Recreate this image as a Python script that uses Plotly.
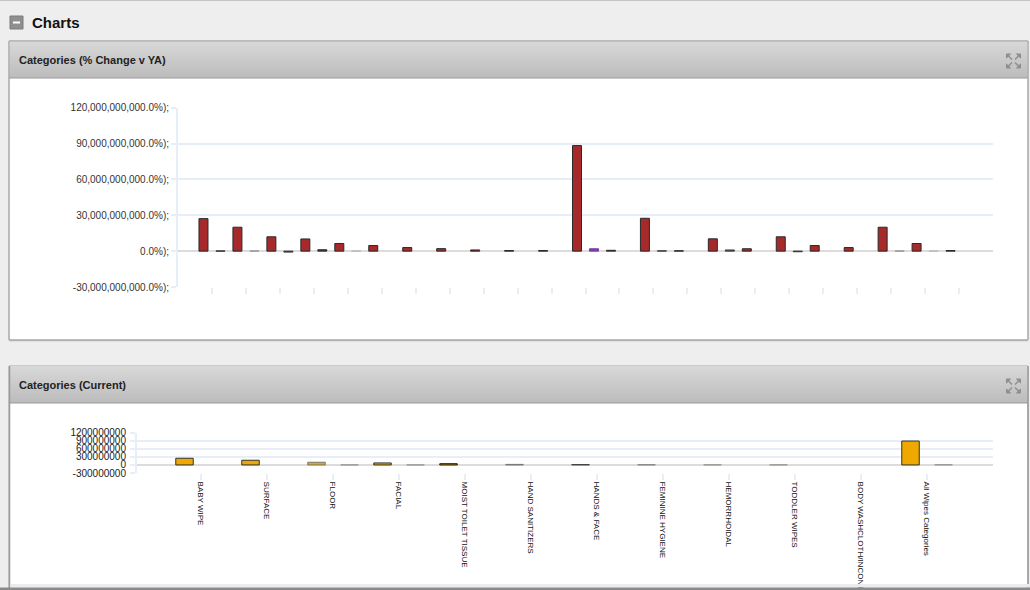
import plotly.graph_objects as go

W, H = 1030, 590

# ---------------- data ----------------
# Top chart: % change v YA (24 slots, two series; None = no bar drawn)
top_slots = [f"S{i+1}" for i in range(24)]
top_change = [27.2e9, 20.0e9, 12.0e9, 10.2e9, 6.4e9, 4.7e9, 3.0e9, 2.1e9, 1.0e9, 0.5e9,
              0.5e9, 88.3e9, 0.7e9, 27.5e9, 0.3e9, 10.3e9, 2.0e9, 12.0e9, 4.7e9, 3.0e9,
              20.0e9, 6.4e9, 0.5e9, None]
top_other = [None, 0.2e9, 0.2e9, -0.8e9, 1.2e9, 0.2e9, None, None, None, None,
             None, None, 2.0e9, None, 0.3e9, None, 1.0e9, None, -0.5e9, None,
             None, 0.2e9, 0.2e9, None]
top_other_colors = ["#333333", "#333333", "#999999", "#333333", "#333333", "#bbbbbb", "#333333", "#333333",
                    "#333333", "#333333", "#333333", "#333333", "#7a3fa8", "#444444", "#444444", "#333333",
                    "#444444", "#333333", "#333333", "#333333", "#333333", "#999999", "#bbbbbb", "#333333"]
top_tickvals = [-30e9, 0, 30e9, 60e9, 90e9, 120e9]
top_ticktext = ["-30,000,000,000.0%);", "0.0%);", "30,000,000,000.0%);", "60,000,000,000.0%);",
                "90,000,000,000.0%);", "120,000,000,000.0%);"]

# Bottom chart: current values (12 categories)
categories = ["BABY WIPE", "SURFACE", "FLOOR", "FACIAL", "MOIST TOILET TISSUE", "HAND SANITIZERS",
              "HANDS & FACE", "FEMININE HYGIENE", "HEMORRHOIDAL", "TODDLER WIPES",
              "BODY WASHCLOTH/INCONTINENCE", "All Wipes Categories"]
current_primary = [248e6, 175e6, 100e6, 75e6, 45e6, 20e6, 15e6, 10e6, 5e6, 5e6, None, 890e6]
current_secondary = [None, None, 3e6, 3e6, None, None, None, None, None, None, None, 10e6]
primary_line_colors = ["#333333", "#333333", "#777777", "#333333", "#111111", "#777777",
                       "#444444", "#888888", "#999999", "#999999", "#999999", "#333333"]
bot_tickvals = [-300e6, 0, 300e6, 600e6, 900e6, 1200e6]
bot_ticktext = ["-300000000", "0", "300000000", "600000000", "900000000", "1200000000"]

RED = "#a62a2a"
YELLOW = "#efa800"
GRID = "#e8eef7"
FONT = "Liberation Sans, Arial, sans-serif"


def X(px):
    return px / W


def Y(py):
    return 1 - py / H


fig = go.Figure()

top_idx = list(range(len(top_slots)))
fig.add_trace(go.Bar(x=top_idx, y=top_other, xaxis="x", yaxis="y",
                     marker=dict(color=top_other_colors, line=dict(color=top_other_colors, width=1)),
                     hoverinfo="skip", showlegend=False))
fig.add_trace(go.Bar(x=top_idx, y=top_change, xaxis="x", yaxis="y",
                     marker=dict(color=RED, line=dict(color="#2a2a2a", width=1)),
                     hoverinfo="skip", showlegend=False))

cat_idx = list(range(len(categories)))
fig.add_trace(go.Bar(x=cat_idx, y=current_primary, xaxis="x2", yaxis="y2",
                     marker=dict(color=YELLOW, line=dict(color=primary_line_colors, width=1)),
                     hoverinfo="skip", showlegend=False))
fig.add_trace(go.Bar(x=cat_idx, y=current_secondary, xaxis="x2", yaxis="y2",
                     marker=dict(color="#bbbbbb", line=dict(color="#999999", width=1)),
                     hoverinfo="skip", showlegend=False))

shapes = []


def rect(x0, y0, x1, y1, fill, line=None, lw=0, layer="below"):
    shapes.append(dict(type="rect", xref="paper", yref="paper",
                       x0=X(x0), x1=X(x1), y0=Y(y1), y1=Y(y0),
                       fillcolor=fill, line=dict(color=line or fill, width=lw), layer=layer))


def hline(x0, x1, y, color, w=1, layer="below"):
    shapes.append(dict(type="line", xref="paper", yref="paper", x0=X(x0), x1=X(x1),
                       y0=Y(y), y1=Y(y), line=dict(color=color, width=w), layer=layer))


def vline(x, y0, y1, color, w=1, layer="below"):
    shapes.append(dict(type="line", xref="paper", yref="paper", x0=X(x), x1=X(x),
                       y0=Y(y0), y1=Y(y1), line=dict(color=color, width=w), layer=layer))


def header(y0, y1):
    c0, c1 = (216, 216, 216), (188, 188, 188)
    n = int(y1 - y0)
    for i in range(n):
        t = i / (n - 1)
        c = tuple(int(round(c0[k] + (c1[k] - c0[k]) * t)) for k in range(3))
        top = y0 + i
        bottom = min(y0 + i + 2, y1)
        rect(9, top, 1028, bottom, "rgb(%d,%d,%d)" % c)


def expand_icon(cx, cy, layer="below"):
    col = "#8e8e8e"
    s = 7
    for dx, dy in [(-1, -1), (1, -1), (-1, 1), (1, 1)]:
        tipx, tipy = cx + dx * s, cy + dy * s
        p1 = (tipx, tipy)
        p2 = (tipx - dx * 4, tipy)
        p3 = (tipx, tipy - dy * 4)
        path = "M %f %f L %f %f L %f %f Z" % (X(p1[0]), Y(p1[1]), X(p2[0]), Y(p2[1]), X(p3[0]), Y(p3[1]))
        shapes.append(dict(type="path", xref="paper", yref="paper", path=path,
                           fillcolor=col, line=dict(color=col, width=1), layer=layer))
        shapes.append(dict(type="line", xref="paper", yref="paper",
                           x0=X(tipx - dx * 1.5), y0=Y(tipy - dy * 1.5),
                           x1=X(cx + dx * 1.5), y1=Y(cy + dy * 1.5),
                           line=dict(color=col, width=1.5), layer=layer))


# page top line
hline(0, 1030, 0.5, "#c4c4c4", 1)
# Charts icon
rect(10, 16, 23, 29, "#8f8f8f", "#7a7a7a", 1)
rect(13, 21.5, 20, 23.5, "#ffffff")

# Panel 1
rect(9, 41, 1028, 340, "#ffffff", "#a8a8a8", 1)
header(41, 78)
hline(9, 1028, 78, "#9a9a9a", 1)
hline(9, 1028, 340.5, "#bdbdbd", 1.5)
rect(9, 41, 1028, 340, "rgba(0,0,0,0)", "#a8a8a8", 1)
expand_icon(1013.5, 61)

# Panel 2
rect(9, 366, 1028, 592, "#ffffff", "#a8a8a8", 1)
header(366, 403)
hline(9, 1028, 403, "#9a9a9a", 1)
vline(9.5, 366, 590, "#9a9a9a", 1.5)
vline(1028, 366, 590, "#9a9a9a", 1.5)
expand_icon(1013.5, 386)

# bottom strip clipping labels (drawn above)
rect(10.5, 584, 1030, 587.5, "#eaecef", layer="above")
rect(0, 587.5, 1030, 590, "#8a8a8a", layer="above")

annotations = [
    dict(text="<b>Charts</b>", x=X(30), y=Y(22.5), xref="paper", yref="paper", xanchor="left",
         yanchor="middle", showarrow=False, font=dict(family=FONT, size=15, color="#111111")),
    dict(text="<b>Categories (% Change v YA)</b>", x=X(17), y=Y(60), xref="paper", yref="paper",
         xanchor="left", yanchor="middle", showarrow=False, font=dict(family=FONT, size=11, color="#222222")),
    dict(text="<b>Categories (Current)</b>", x=X(17), y=Y(385), xref="paper", yref="paper",
         xanchor="left", yanchor="middle", showarrow=False, font=dict(family=FONT, size=11, color="#222222")),
]

fig.update_layout(
    width=W, height=H, autosize=False,
    margin=dict(l=0, r=0, t=0, b=0, pad=0, autoexpand=False),
    paper_bgcolor="#eeeeee",
    plot_bgcolor="rgba(0,0,0,0)",
    barmode="group", bargap=0.0, bargroupgap=0.47,
    showlegend=False,
    shapes=shapes,
    annotations=annotations,
    xaxis=dict(domain=[X(178), X(993)], range=[-0.5, 23.5], anchor="y", automargin=False,
               tickmode="array", tickvals=[i + 0.5 for i in range(23)], showticklabels=False,
               ticks="outside", ticklen=6, tickcolor=GRID, tickwidth=2,
               showgrid=False, zeroline=False, showline=False, fixedrange=True),
    yaxis=dict(domain=[Y(287), Y(107.7)], range=[-30e9, 120e9], anchor="x", automargin=False,
               tickmode="array", tickvals=top_tickvals, ticktext=top_ticktext,
               ticks="outside", ticklen=5, tickcolor=GRID, tickwidth=2, ticklabelstandoff=0,
               tickfont=dict(family=FONT, size=10, color="#333333"),
               showgrid=True, gridcolor=GRID, gridwidth=2,
               zeroline=True, zerolinecolor="#dcdcdc", zerolinewidth=2,
               showline=True, linecolor=GRID, linewidth=2, fixedrange=True),
    xaxis2=dict(domain=[X(137), X(993)], range=[-0.97, 12.0], anchor="y2", automargin=False,
                tickmode="array", tickvals=cat_idx, ticktext=categories, tickangle=90,
                ticks="outside", ticklen=6, tickcolor=GRID, tickwidth=2,
                tickfont=dict(family=FONT, size=8, color="#111111"),
                showgrid=False, zeroline=False, showline=False, fixedrange=True),
    yaxis2=dict(domain=[Y(473), Y(432.7)], range=[-300e6, 1200e6], anchor="x2", automargin=False,
                tickmode="array", tickvals=bot_tickvals, ticktext=bot_ticktext,
                ticks="outside", ticklen=5, tickcolor=GRID, tickwidth=2, ticklabelstandoff=2,
                tickfont=dict(family=FONT, size=10, color="#222222"),
                showgrid=True, gridcolor=GRID, gridwidth=2,
                zeroline=True, zerolinecolor="#dcdcdc", zerolinewidth=2,
                showline=True, linecolor=GRID, linewidth=2, fixedrange=True),
)

fig.write_html(
    "out.html",
    config={"displayModeBar": False},
    post_script="document.body.style.margin='0';document.body.style.overflow='hidden';"
                "document.documentElement.style.overflow='hidden';",
)
